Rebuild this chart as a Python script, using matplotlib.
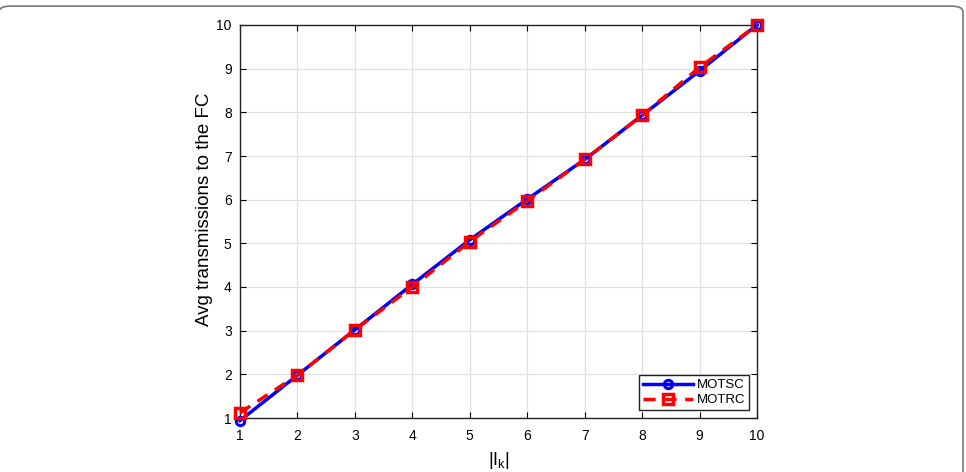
import matplotlib.pyplot as plt
from matplotlib.patches import FancyBboxPatch

plt.rcParams['font.family'] = ['Liberation Sans', 'DejaVu Sans']

ik = [1, 2, 3, 4, 5, 6, 7, 8, 9, 10]
motsc = [0.94, 1.98, 3.02, 4.06, 5.08, 6.01, 6.92, 7.93, 8.95, 10.0]
motrc = [1.12, 1.98, 3.02, 4.0, 5.04, 5.97, 6.92, 7.93, 9.03, 10.0]

fig = plt.figure(figsize=(9.66, 4.72), dpi=100)
ax = fig.add_axes([240 / 966, 1 - 418 / 472, 517 / 966, 393 / 472])

# outer frame of the figure panel
frame = FancyBboxPatch((-1 / 966, -0.2), 964 / 966, 1.187,
                       boxstyle='round,pad=0,rounding_size=0.012',
                       transform=fig.transFigure, fill=False,
                       edgecolor='#777777', linewidth=1.2)
fig.patches.append(frame)

ax.plot(ik, motsc, '-o', color='#0000ff', linewidth=2.5, markersize=6,
        markerfacecolor='none', markeredgewidth=2.2, label='MOTSC',
        clip_on=False, zorder=3)
ax.plot(ik, motrc, '--s', color='#ff0000', linewidth=2.5, markersize=6.5,
        markerfacecolor='none', markeredgewidth=2.5, label='MOTRC',
        dashes=(3.5, 2.5), clip_on=False, zorder=4)

ax.set_xlim(1, 10)
ax.set_ylim(1, 10)
ax.set_xticks(ik)
ax.set_yticks(range(1, 11))
ax.grid(True, color='#e0e0e0', linewidth=0.9)
ax.set_axisbelow(True)
ax.tick_params(direction='in', top=True, right=True, labelsize=10, length=4)
ax.tick_params(axis='x', pad=8)
ax.tick_params(axis='y', pad=6)
for s in ax.spines.values():
    s.set_linewidth(1.0)
    s.set_color('#222222')

ax.set_xlabel('|I$_{\\mathregular{k}}$|', fontsize=13, labelpad=5)
ax.set_ylabel('Avg transmissions to the FC', fontsize=13.5)
ax.yaxis.set_label_coords(-0.052, 0.53)

leg = ax.legend(loc='lower right', fontsize=9.5, fancybox=False,
                framealpha=1, edgecolor='#222222', handlelength=3.8,
                borderpad=0.3, labelspacing=0.2, handletextpad=0.3,
                borderaxespad=0.6)
leg.get_frame().set_linewidth(1.0)

fig.savefig('out.png', dpi=100)
